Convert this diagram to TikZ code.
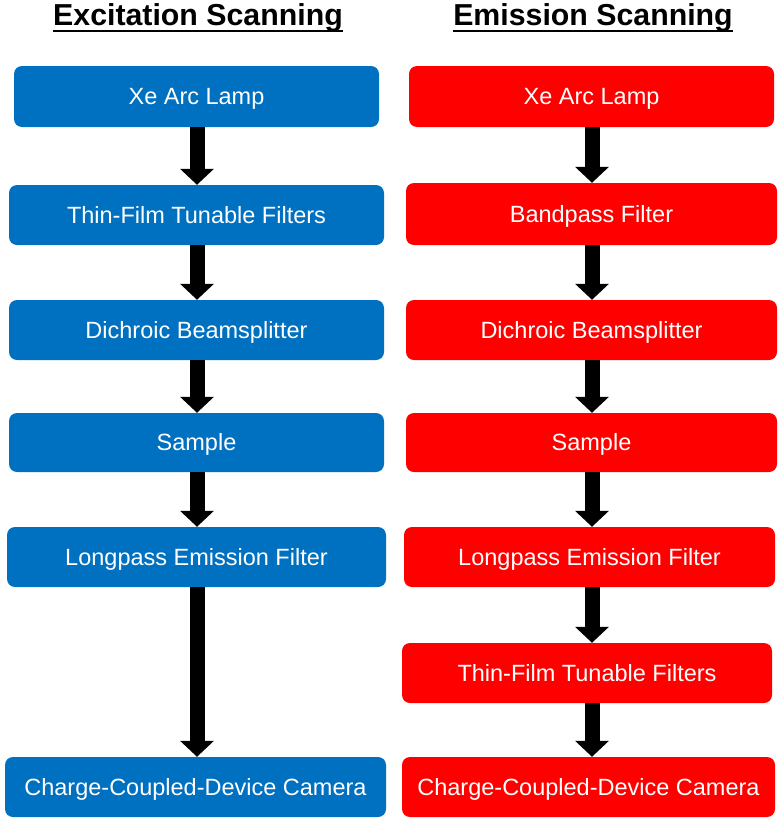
\documentclass[tikz,border=0pt]{standalone}
\usepackage{fontspec}
\setmainfont{Liberation Sans}
\usetikzlibrary{arrows.meta,calc}
\definecolor{exblue}{RGB}{0,112,192}
\definecolor{emred}{RGB}{255,0,0}
\begin{document}
\begin{tikzpicture}[x=1pt,y=-1pt,
  box/.style={rounded corners=8pt,inner sep=0pt,text=white,
    font=\fontsize{23.5}{28}\selectfont,text height=18pt,text depth=2pt},
  bluebox/.style={box,fill=exblue},
  redbox/.style={box,fill=emred},
  flow/.style={line width=15pt,black,-{Triangle[width=33pt,length=16pt]}},
  title/.style={inner sep=0pt,anchor=base,font=\fontsize{30.3}{36}\selectfont\bfseries},
  uline/.style={line width=2.5pt}]
\useasboundingbox (0,0) rectangle (780,822);
% titles
\node[title] (t1) at (198,25) {Excitation Scanning};
\node[title] (t2) at (593,25) {Emission Scanning};
\draw[uline] ($(t1.base west)+(0,6)$) -- ($(t1.base east)+(0,6)$);
\draw[uline] ($(t2.base west)+(0,6)$) -- ($(t2.base east)+(0,6)$);
% left column
\node[bluebox,minimum width=365pt,minimum height=61pt] (L1) at (196.5,96.5) {Xe Arc Lamp};
\node[bluebox,minimum width=375pt,minimum height=60pt] (L2) at (196.5,215) {Thin-Film Tunable Filters};
\node[bluebox,minimum width=375pt,minimum height=60pt] (L3) at (196.5,330) {Dichroic Beamsplitter};
\node[bluebox,minimum width=375pt,minimum height=59pt] (L4) at (196.5,442.5) {Sample};
\node[bluebox,minimum width=379pt,minimum height=60pt] (L5) at (196.5,557) {Longpass Emission Filter};
\node[bluebox,minimum width=381pt,minimum height=60pt] (L6) at (195.5,787) {Charge-Coupled-Device Camera};
% right column
\node[redbox,minimum width=365pt,minimum height=61pt] (R1) at (591.5,96.5) {Xe Arc Lamp};
\node[redbox,minimum width=371pt,minimum height=62pt] (R2) at (591.5,214) {Bandpass Filter};
\node[redbox,minimum width=371pt,minimum height=60pt] (R3) at (591.5,330) {Dichroic Beamsplitter};
\node[redbox,minimum width=371pt,minimum height=59pt] (R4) at (591.5,442.5) {Sample};
\node[redbox,minimum width=371pt,minimum height=60pt] (R5) at (589.5,557) {Longpass Emission Filter};
\node[redbox,minimum width=370pt,minimum height=60pt] (R6) at (587,673) {Thin-Film Tunable Filters};
\node[redbox,minimum width=373pt,minimum height=60pt] (R7) at (588.5,787) {Charge-Coupled-Device Camera};
% arrows
\coordinate (lx) at (197,0);
\coordinate (rx) at (592,0);
\foreach \a/\b in {L1/L2,L2/L3,L3/L4,L4/L5,L5/L6}
  \draw[flow] (\a.south -| lx) -- (\b.north -| lx);
\foreach \a/\b in {R1/R2,R2/R3,R3/R4,R4/R5,R5/R6,R6/R7}
  \draw[flow] (\a.south -| rx) -- (\b.north -| rx);
\end{tikzpicture}
\end{document}
